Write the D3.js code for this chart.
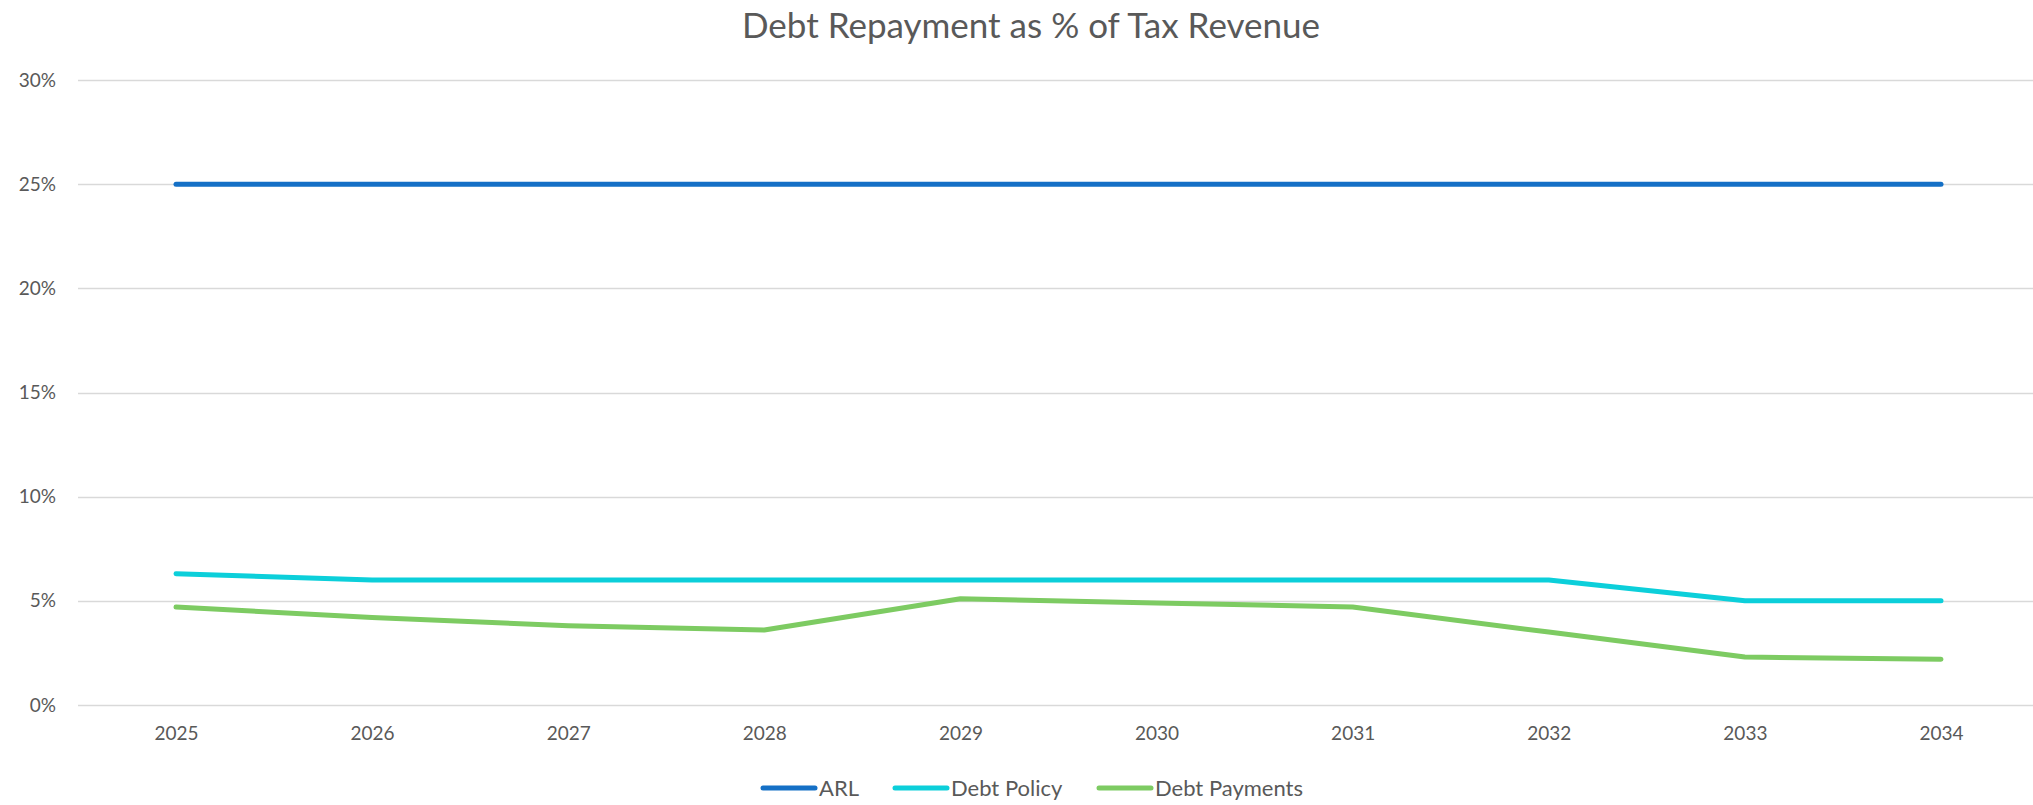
<!DOCTYPE html>
<html>
<head>
<meta charset="utf-8">
<script src="https://cdn.jsdelivr.net/npm/d3@7"></script>
<style>
  html, body { margin: 0; padding: 0; background: #fff; }
  svg { display: block; }
  text { font-family: Lato, "Open Sans", sans-serif; fill: #595959; }
</style>
</head>
<body>
<svg id="chart" width="2033" height="805"></svg>
<script>
// Years on the category axis
const years = ["2025", "2026", "2027", "2028", "2029", "2030", "2031", "2032", "2033", "2034"];

// Series values, percent of tax revenue
const arl          = [25, 25, 25, 25, 25, 25, 25, 25, 25, 25];
const debtPolicy   = [6.3, 6, 6, 6, 6, 6, 6, 6, 5, 5];
const debtPayments = [4.7, 4.2, 3.8, 3.6, 5.1, 4.9, 4.7, 3.5, 2.3, 2.2];

const seriesNames  = ["ARL", "Debt Policy", "Debt Payments"];
const seriesColors = ["#1570C6", "#0CCFDA", "#7DCB62"];

// Y axis ticks
const yTicks = [0, 5, 10, 15, 20, 25, 30];

const title = "Debt Repayment as % of Tax Revenue";

const plot = { left: 78, right: 2033, top: 80, bottom: 705 };

const svg = d3.select("#chart");

// Category positions: first and last year sit half a band inside the plot
const x = d3.scalePoint()
  .domain(years)
  .range([176, 1941]);

const y = d3.scaleLinear()
  .domain([0, 30])
  .range([plot.bottom, plot.top]);

// Title
svg.append("text")
  .attr("x", 1031)
  .attr("y", 38)
  .attr("text-anchor", "middle")
  .style("font-size", "35px")
  .text(title);

// Horizontal gridlines
svg.append("g")
  .selectAll("line")
  .data(yTicks)
  .join("line")
  .attr("x1", plot.left)
  .attr("x2", plot.right)
  .attr("y1", d => Math.round(y(d)) + 0.5)
  .attr("y2", d => Math.round(y(d)) + 0.5)
  .attr("stroke", "#D9D9D9")
  .attr("stroke-width", 1.5);

// Y axis labels
const yAxis = d3.axisLeft(y)
  .tickValues(yTicks)
  .tickFormat(d => d + "%")
  .tickSize(0)
  .tickPadding(0);
const gy = svg.append("g")
  .attr("transform", `translate(${56},0)`)
  .call(yAxis);
gy.select(".domain").remove();
gy.selectAll("text")
  .style("font-size", "19px")
  .style("font-family", "Lato, 'Open Sans', sans-serif")
  .attr("fill", "#595959");

// X axis labels
const xAxis = d3.axisBottom(x).tickSize(0).tickPadding(0);
const gx = svg.append("g")
  .attr("transform", `translate(0,${726})`)
  .call(xAxis);
gx.select(".domain").remove();
gx.selectAll("text")
  .style("font-size", "19px")
  .style("font-family", "Lato, 'Open Sans', sans-serif")
  .attr("fill", "#595959");

// Lines
const line = d3.line()
  .x((d, i) => x(years[i]))
  .y(d => y(d));

const allSeries = [arl, debtPolicy, debtPayments];
svg.append("g")
  .selectAll("path")
  .data(allSeries)
  .join("path")
  .attr("d", d => line(d))
  .attr("fill", "none")
  .attr("stroke", (d, i) => seriesColors[i])
  .attr("stroke-width", 5)
  .attr("stroke-linecap", "round")
  .attr("stroke-linejoin", "round");

// Legend
const legendY = 788;
const legendItems = [
  { x: 763, name: seriesNames[0], color: seriesColors[0] },
  { x: 895, name: seriesNames[1], color: seriesColors[1] },
  { x: 1099, name: seriesNames[2], color: seriesColors[2] }
];
const lg = svg.append("g");
legendItems.forEach(it => {
  lg.append("line")
    .attr("x1", it.x).attr("x2", it.x + 52)
    .attr("y1", legendY).attr("y2", legendY)
    .attr("stroke", it.color)
    .attr("stroke-width", 5)
    .attr("stroke-linecap", "round");
  lg.append("text")
    .attr("x", it.x + 56)
    .attr("y", legendY)
    .attr("dy", "0.35em")
    .style("font-size", "22px")
    .text(it.name);
});
</script>
</body>
</html>
